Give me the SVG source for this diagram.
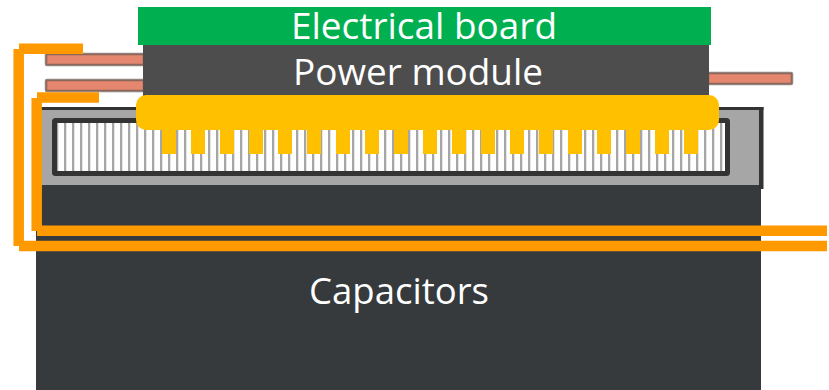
<svg xmlns="http://www.w3.org/2000/svg" width="829" height="390" viewBox="0 0 829 390">
<defs><style>
.t{font-family:"Open Sans","Noto Sans","Liberation Sans",sans-serif;font-size:36px;fill:#fff;text-anchor:middle}
.cu{fill:#e5866f;stroke:#6e5a54;stroke-width:2.500;stroke-opacity:.75}
.pin{fill:#ffc000}
.or{fill:none;stroke:#ff9900;stroke-width:10.500}
</style>
<pattern id="fins" x="64" y="0" width="8" height="10" patternUnits="userSpaceOnUse"><rect width="2.300" height="10" fill="#a6a6a6"/></pattern>
</defs>
<g id="capacitors"><rect x="36" y="184" width="725" height="206" fill="#363a3d"/><text class="t" x="399" y="304" textLength="180" lengthAdjust="spacingAndGlyphs">Capacitors</text></g>
<g id="heatsink">
<rect x="40" y="109" width="720" height="76" fill="#a6a6a6"/>
<rect x="40" y="107" width="723.500" height="3" fill="#333"/>
<rect x="759" y="107" width="4.500" height="82" fill="#333"/>
<rect x="54.500" y="120.500" width="673" height="53" rx="1" fill="#fff"/>
<rect x="54.500" y="120.500" width="673" height="53" fill="url(#fins)"/>
<rect x="54.500" y="120.500" width="673" height="53" rx="1" fill="none" stroke="#333" stroke-width="5"/>
</g>
<g id="terminals">
<rect class="cu" x="46" y="54" width="98" height="11" rx="1"/>
<rect class="cu" x="46" y="80" width="98" height="11" rx="1"/>
<rect class="cu" x="708" y="73" width="84" height="11" rx="1"/>
</g>
<g id="power-module"><rect x="143" y="45" width="566" height="55" fill="#4d4d4d"/><text class="t" x="418" y="85" textLength="250" lengthAdjust="spacingAndGlyphs">Power module</text></g>
<g id="electrical-board"><rect x="138" y="7" width="573" height="38" fill="#00b050"/><text class="t" x="424" y="39" textLength="266" lengthAdjust="spacingAndGlyphs">Electrical board</text></g>
<g id="cooler">
<rect class="pin" x="136" y="95" width="583" height="35" rx="10"/>
<g class="pin"><rect x="162" y="125" width="14" height="29"/><rect x="191" y="125" width="14" height="29"/><rect x="220" y="125" width="14" height="29"/><rect x="249" y="125" width="14" height="29"/><rect x="278" y="125" width="14" height="29"/><rect x="307" y="125" width="14" height="29"/><rect x="336" y="125" width="14" height="29"/><rect x="365" y="125" width="14" height="29"/><rect x="394" y="125" width="14" height="29"/><rect x="423" y="125" width="14" height="29"/><rect x="452" y="125" width="14" height="29"/><rect x="481" y="125" width="14" height="29"/><rect x="510" y="125" width="14" height="29"/><rect x="539" y="125" width="14" height="29"/><rect x="568" y="125" width="14" height="29"/><rect x="597" y="125" width="14" height="29"/><rect x="626" y="125" width="14" height="29"/><rect x="655" y="125" width="14" height="29"/><rect x="684" y="125" width="14" height="29"/></g>
</g>
<g id="connectors">
<path class="or" d="M83 48.700H19M18.700 49V246M19 246H827"/>
<path class="or" d="M99 97.500H37M36.700 98V231M37 230.800H827"/>
</g>
</svg>
